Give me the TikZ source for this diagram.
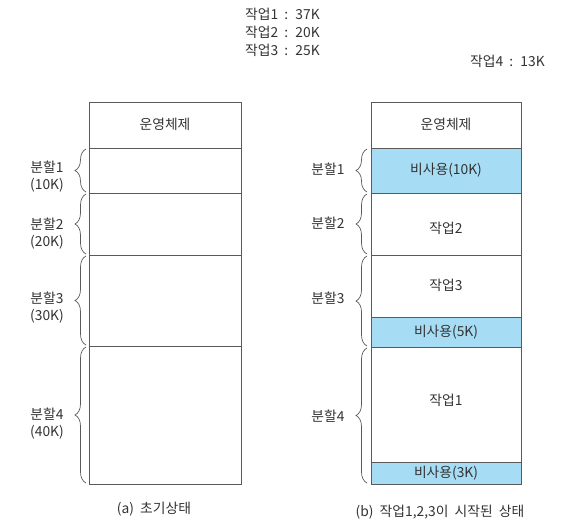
\documentclass[tikz,border=0pt]{standalone}
\usepackage{fontspec}
\setmainfont[WordSpace=2]{Noto Sans CJK KR}
\usetikzlibrary{decorations.pathreplacing}
\definecolor{txt}{HTML}{333333}
\definecolor{edge}{HTML}{5A5A5A}
\definecolor{unused}{HTML}{A6DCF4}
\tikzset{
  lbl/.style={text=txt, font=\fontsize{13.8}{16}\selectfont, inner sep=0pt},
  mem/.style={draw=edge, line width=0.9pt},
  freeblk/.style={draw=edge, line width=0.9pt, fill=unused},
  brc/.style={draw=edge, line width=0.7pt, decorate, decoration={brace, amplitude=11pt}},
}
\begin{document}
\begin{tikzpicture}[x=1pt, y=-1pt]
\useasboundingbox (0,0) rectangle (567,527);
% top job list
\node[lbl, anchor=west] (j1) at (245,14) {작업1 : 37K};
\node[lbl, anchor=west] (j2) at (245,32) {작업2 : 20K};
\node[lbl, anchor=west] (j3) at (245,50) {작업3 : 25K};
\node[lbl, anchor=west] (j4) at (470,61) {작업4 : 13K};

% ---------- (a) ----------
\draw[mem] (89,102) rectangle (241,148);
\draw[mem] (89,148) rectangle (241,193);
\draw[mem] (89,193) rectangle (241,255);
\draw[mem] (89,255) rectangle (241,346);
\draw[mem] (89,346) rectangle (241,484);
\node[lbl] (aos) at (165,124) {운영체제};

\draw[brc] (86,192) -- (86,149);
\draw[brc] (86,254) -- (86,194);
\draw[brc] (86,345) -- (86,256);
\draw[brc] (86,483) -- (86,347);
\node[lbl] (ap1) at (47,167) {분할1};
\node[lbl] (ap1s) at (47,185) {(10K)};
\node[lbl] (ap2) at (47,224) {분할2};
\node[lbl] (ap2s) at (47,242) {(20K)};
\node[lbl] (ap3) at (47,298) {분할3};
\node[lbl] (ap3s) at (47,316) {(30K)};
\node[lbl] (ap4) at (47,414) {분할4};
\node[lbl] (ap4s) at (47,432) {(40K)};
\node[lbl] (capa) at (154,509) {(a) 초기상태};

% ---------- (b) ----------
\draw[mem] (371,102) rectangle (521,148);
\draw[freeblk] (371,148) rectangle (521,193);
\draw[mem] (371,193) rectangle (521,255);
\draw[mem] (371,255) rectangle (521,317);
\draw[freeblk] (371,317) rectangle (521,347);
\draw[mem] (371,347) rectangle (521,462);
\draw[freeblk] (371,462) rectangle (521,484);
\node[lbl] (bos) at (446,124) {운영체제};
\node[lbl] (bf1) at (446,170) {비사용(10K)};
\node[lbl] (bj2) at (446,228) {작업2};
\node[lbl] (bj3) at (446,285) {작업3};
\node[lbl] (bf2) at (446,332) {비사용(5K)};
\node[lbl] (bj1) at (446,400) {작업1};
\node[lbl] (bf3) at (446,473) {비사용(3K)};

\draw[brc] (367,192) -- (367,149);
\draw[brc] (367,254) -- (367,194);
\draw[brc] (367,346) -- (367,256);
\draw[brc] (367,483) -- (367,348);
\node[lbl] (bp1) at (328,169) {분할1};
\node[lbl] (bp2) at (328,223) {분할2};
\node[lbl] (bp3) at (328,298) {분할3};
\node[lbl] (bp4) at (328,416) {분할4};
\node[lbl] (capb) at (440,512) {(b) 작업1,2,3이 시작된 상태};
\end{tikzpicture}
\end{document}
